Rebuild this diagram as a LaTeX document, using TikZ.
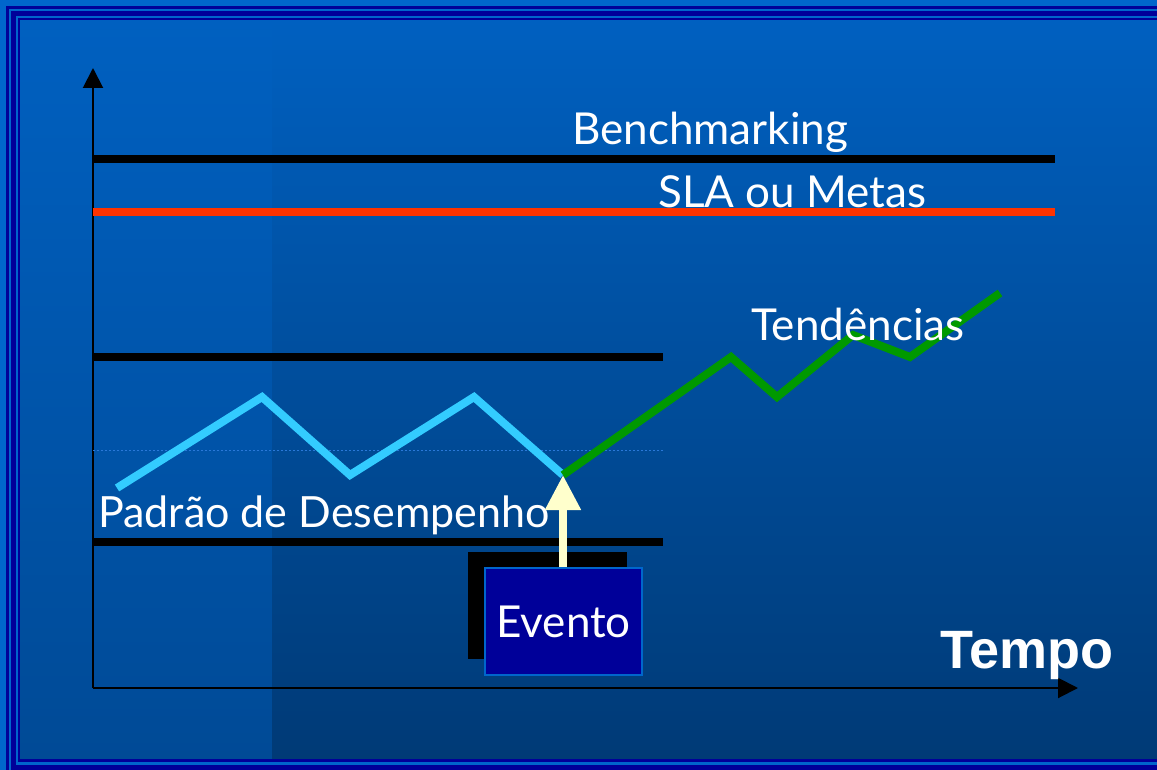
\documentclass[tikz,border=0pt]{standalone}
\usepackage{fontspec}
\setmainfont{Lato}
\newfontfamily\tempofont{Liberation Sans}
\usetikzlibrary{arrows.meta}
\definecolor{framelight}{HTML}{0066CC}
\definecolor{framedark}{HTML}{000099}
\definecolor{bgtop}{HTML}{0060C0}
\definecolor{bgbotL}{HTML}{004A96}
\definecolor{bgbotR}{HTML}{003A76}
\definecolor{cyanline}{HTML}{33CCFF}
\definecolor{greenline}{HTML}{009900}
\definecolor{redline}{HTML}{FF3300}
\definecolor{yellowarrow}{HTML}{FFFFCC}
\definecolor{dotblue}{HTML}{2A78D8}
\tikzset{
  lbl/.style={text=white, font=\fontsize{44}{50}\selectfont, anchor=base west, inner sep=0pt},
  level/.style={line width=7.5pt, black},
  axis/.style={line width=2pt, black, -{Triangle[width=20pt,length=20pt]}},
  zig/.style={line width=8pt, cyanline},
  zag/.style={line width=8pt, greenline},
  framel/.style={line width=#1, framedark},
}
\begin{document}
\begin{tikzpicture}[x=1pt,y=-1pt]
\useasboundingbox (0,0) rectangle (1157,770);
\clip (0,0) rectangle (1157,770);
% background and frame
\fill[framelight] (0,0) rectangle (1157,770);
\shade[top color=bgtop, bottom color=bgbotL] (20,20) rectangle (272,759);
\shade[top color=bgtop, bottom color=bgbotR] (272,20) rectangle (1157,759);
\draw[framel=3pt] (1200,7.5) -- (7.5,7.5) -- (7.5,800);
\draw[framel=5pt] (1200,13.5) -- (13.5,13.5) -- (13.5,767) -- (1200,767);
\draw[framel=2.5pt] (1200,19) -- (19,19) -- (19,760.5) -- (1200,760.5);

% axes
\coordinate (O) at (93,688);
\coordinate (ytip) at (93,68);
\coordinate (xtip) at (1078,688);
\draw[axis] (O) -- (ytip);
\draw[axis] (O) -- (xtip);

% level lines
\coordinate (b1) at (93,159);  \coordinate (b2) at (1055,159);
\coordinate (r1) at (93,212);  \coordinate (r2) at (1055,212);
\coordinate (u1) at (93,357);  \coordinate (u2) at (663,357);
\coordinate (l1) at (93,542);  \coordinate (l2) at (663,542);
\coordinate (d1) at (93,450);  \coordinate (d2) at (663,450);
\draw[level] (b1) -- (b2);
\draw[line width=7.5pt, redline] (r1) -- (r2);
\draw[level] (u1) -- (u2);
\draw[level] (l1) -- (l2);
\draw[dotblue, line width=1pt, dash pattern=on 2pt off 2pt] (d1) -- (d2);

% zigzag
\coordinate (p1) at (117,488);
\coordinate (p2) at (262,397);
\coordinate (p3) at (350,475);
\coordinate (p4) at (474,397);
\coordinate (p5) at (563,475);
\coordinate (g2) at (731,357);
\coordinate (g3) at (777,397);
\coordinate (g4) at (853,335);
\coordinate (g5) at (910,357);
\coordinate (g6) at (1000,293);
\draw[zig] (p1) -- (p2) -- (p3) -- (p4) -- (p5);
\draw[zag] (p5) -- (g2) -- (g3) -- (g4) -- (g5) -- (g6);

% labels
\node[lbl] (bench) at (572,145) {Benchmarking};
\node[lbl] (sla) at (658,208) {SLA ou Metas};
\node[lbl] (tend) at (751,340) {Tendências};
\node[lbl, font=\fontsize{43}{50}\selectfont] (padrao) at (98,527) {Padrão de Desempenho};
\node[text=white, font=\tempofont\bfseries\fontsize{54}{60}\selectfont, anchor=base west, inner sep=0pt] (tempo) at (940,668) {Tempo};

% event box
\fill[black] (468,552) rectangle (627,659);
\node[draw=framelight, line width=2pt, fill=framedark, text=white, minimum width=157pt, minimum height=107pt, inner sep=0pt, font=\fontsize{44}{50}\selectfont] (evento) at (563.5,621.5) {Evento};
\draw[line width=8pt, yellowarrow, -{Triangle[width=34pt,length=35pt]}] (evento.north -| p5) -- (p5);
\end{tikzpicture}
\end{document}
